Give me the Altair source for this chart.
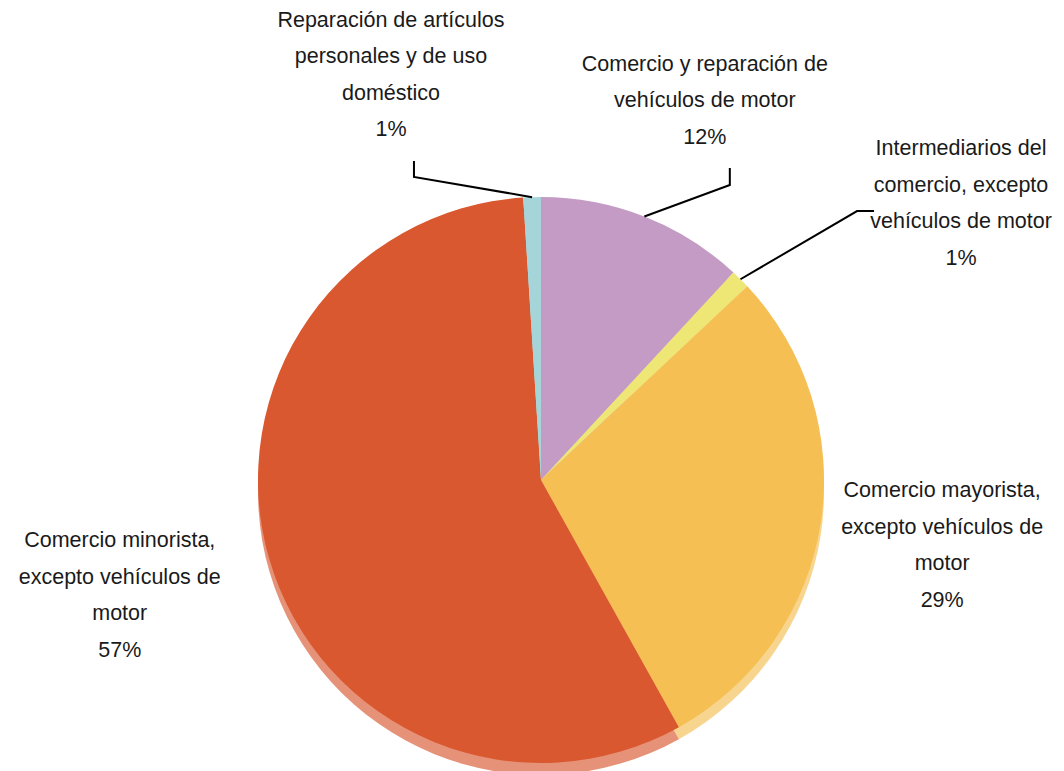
import math
import altair as alt
import pandas as pd

# ---------------- data ----------------
categories = [
    "Comercio y reparación de vehículos de motor",
    "Intermediarios del comercio, excepto vehículos de motor",
    "Comercio mayorista, excepto vehículos de motor",
    "Comercio minorista, excepto vehículos de motor",
    "Reparación de artículos personales y de uso doméstico",
]
shares = [11.9, 1.1, 28.9, 57.1, 1.0]
label_lines = [
    ["Comercio y reparación de", "vehículos de motor"],
    ["Intermediarios del", "comercio, excepto", "vehículos de motor"],
    ["Comercio mayorista,", "excepto vehículos de", "motor"],
    ["Comercio minorista,", "excepto vehículos de", "motor"],
    ["Reparación de artículos", "personales y de uso", "doméstico"],
]
colors = ["#C39BC5", "#EEE675", "#F5BF53", "#D9582F", "#A5D5D8"]

# ---------------- layout / style ----------------
W, H = 1048, 763
CX, CY, R = 533, 472, 283
SHADOW_DY = 12
FONT = "Liberation Sans"
FONT_SIZE = 21.5
LINE_H = 36.5
# per-label placement of the label block centre: (radius, dx, dy)
label_style = {
    0: (413, 13, 5.5),
    1: (420, 124, 22),
    2: (410, -4, 3),
    3: (437, -2, -7),
    4: (431, -136.5, 26.3),
}
# leader line elbow/end offsets relative to label centre
leader_style = {
    0: [(25, 84), (25, 67)],
    1: [(-104, 7), (-87, 7)],
    4: [(23, 101.5), (23, 85.5)],
}

df = pd.DataFrame({
    "idx": list(range(len(categories))),
    "category": categories,
    "value": shares,
    "label": ["\n".join(lines + [f"{round(v)}%"]) for lines, v in zip(label_lines, shares)],
})

# leader lines derived from the data angles
cum = 0.0
rows = []
for i, v in enumerate(shares):
    mid = (cum + v / 2) / 100 * 2 * math.pi
    cum += v
    if i not in leader_style:
        continue
    r, dx, dy = label_style[i]
    lx = CX + r * math.sin(mid) + dx
    ly = CY - r * math.cos(mid) + dy
    pts = [(CX + R * math.sin(mid), CY - R * math.cos(mid))]
    pts += [(lx + ox, ly + oy) for ox, oy in leader_style[i]]
    for k, (px, py) in enumerate(pts):
        rows.append({"category": categories[i], "pt": k, "x": px, "y": py})
leader_df = pd.DataFrame(rows)

theta_scale = alt.Scale(domain=[0, 100], range=[0, 2 * math.pi])
color_enc = alt.Color("category:N", scale=alt.Scale(domain=categories, range=colors), legend=None)

base = (
    alt.Chart(df)
    .transform_window(cum="sum(value)", sort=[alt.SortField("idx")], frame=[None, 0])
    .transform_calculate(start="datum.cum - datum.value", mid="datum.cum - datum.value / 2")
)

shadow = base.mark_arc(radius=R, opacity=0.65, strokeWidth=0).encode(
    theta=alt.Theta("start:Q", scale=theta_scale, stack=None),
    theta2="cum:Q",
    color=color_enc,
    x=alt.value(CX),
    y=alt.value(CY + SHADOW_DY),
)
pie = base.mark_arc(radius=R, strokeWidth=0).encode(
    theta=alt.Theta("start:Q", scale=theta_scale, stack=None),
    theta2="cum:Q",
    color=color_enc,
    x=alt.value(CX),
    y=alt.value(CY),
)

texts = []
for i, cat in enumerate(categories):
    r, dx, dy = label_style[i]
    n_lines = len(label_lines[i]) + 1
    # Vega anchors the first line; shift so the block is centred
    dy_first = dy - (n_lines - 1) * LINE_H / 2
    t = base.transform_filter(alt.datum.category == cat).mark_text(
        radius=r, dx=dx, dy=dy_first, align="center", baseline="middle",
        lineBreak="\n", lineHeight=LINE_H, font=FONT, fontSize=FONT_SIZE, color="#1A1A1A",
    ).encode(
        theta=alt.Theta("mid:Q", scale=theta_scale, stack=None),
        text="label:N",
        x=alt.value(CX),
        y=alt.value(CY),
    )
    texts.append(t)

leaders = alt.Chart(leader_df).mark_line(color="#000000", strokeWidth=2).encode(
    x=alt.X("x:Q", scale=None, axis=None),
    y=alt.Y("y:Q", scale=None, axis=None),
    detail="category:N",
    order="pt:Q",
)

chart = (
    alt.layer(shadow, pie, leaders, *texts)
    .properties(width=W, height=H, padding=0, autosize="none", background="white")
    .configure_view(stroke=None)
)

chart.save("out.html", embed_options={"renderer": "svg", "actions": False})
